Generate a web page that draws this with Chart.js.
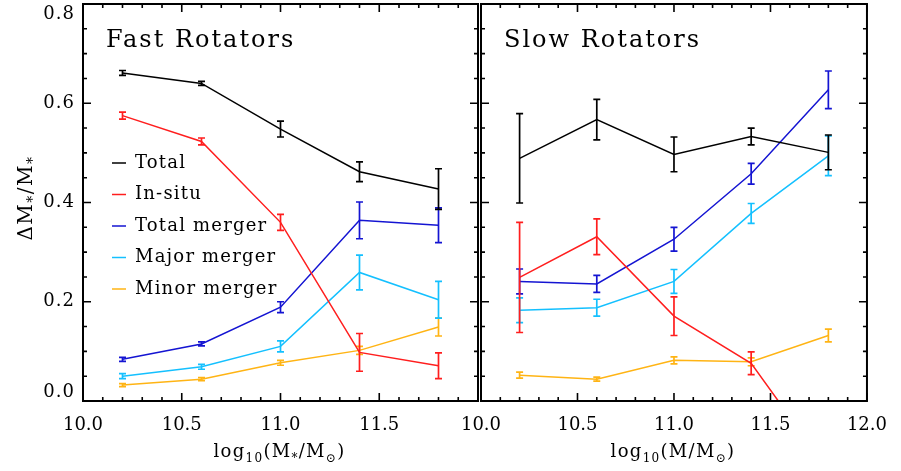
<!DOCTYPE html>
<html>
<head>
<meta charset="utf-8">
<script src="https://cdn.jsdelivr.net/npm/chart.js@4.4.0/dist/chart.umd.min.js"></script>
<style>
  body { margin: 0; background: #fff; }
  #wrap { position: relative; width: 901px; height: 471px; overflow: hidden; }
  canvas { position: absolute; top: 0; }
</style>
</head>
<body>
<div id="wrap">
  <canvas id="fast" width="492" height="471" style="left:0"></canvas>
  <canvas id="slow" width="461" height="471" style="left:440px"></canvas>
</div>
<script>
// stellar mass bins (log10)
const massBins = [10.2, 10.6, 11.0, 11.4, 11.8];
const seriesNames = ['Total', 'In-situ', 'Total merger', 'Major merger', 'Minor merger'];
const seriesColors = ['#000000', '#ff1e1e', '#1414d2', '#14c0ff', '#ffb414'];

// fast rotators
const fastTotal = [0.661, 0.640, 0.548, 0.462, 0.427];
const fastTotalErr = [0.005, 0.004, 0.016, 0.020, 0.041];
const fastInsitu = [0.575, 0.523, 0.360, 0.098, 0.071];
const fastInsituErr = [0.007, 0.007, 0.016, 0.038, 0.026];
const fastMerger = [0.084, 0.115, 0.189, 0.364, 0.354];
const fastMergerErr = [0.004, 0.004, 0.011, 0.037, 0.035];
const fastMajor = [0.050, 0.069, 0.110, 0.259, 0.204];
const fastMajorErr = [0.005, 0.005, 0.011, 0.035, 0.037];
const fastMinor = [0.032, 0.044, 0.077, 0.102, 0.149];
const fastMinorErr = [0.003, 0.003, 0.005, 0.008, 0.018];

// slow rotators
const slowTotal = [0.489, 0.567, 0.497, 0.533, 0.501];
const slowTotalErr = [0.090, 0.041, 0.035, 0.017, 0.035];
const slowInsitu = [0.249, 0.331, 0.171, 0.076, -0.140];
const slowInsituErr = [0.111, 0.036, 0.039, 0.023, 0.030];
const slowMerger = [0.241, 0.236, 0.326, 0.458, 0.627];
const slowMergerErr = [0.025, 0.017, 0.024, 0.021, 0.038];
const slowMajor = [0.183, 0.188, 0.241, 0.378, 0.494];
const slowMajorErr = [0.025, 0.017, 0.024, 0.020, 0.040];
const slowMinor = [0.052, 0.044, 0.082, 0.079, 0.132];
const slowMinorErr = [0.006, 0.004, 0.007, 0.008, 0.013];

const yTicks = [0.0, 0.2, 0.4, 0.6, 0.8];
const FONT = '"DejaVu Serif", "Liberation Serif", serif';

function makeDatasets(values, errors) {
  return values.map((vals, i) => ({
    label: seriesNames[i],
    data: massBins.map((x, j) => ({ x: x, y: vals[j] })),
    errors: errors[i],
    borderColor: seriesColors[i],
    borderWidth: 1.5,
    pointRadius: 0,
    tension: 0
  }));
}

// vertical error bars with caps, drawn right after each line
const errorBars = {
  id: 'errorBars',
  afterDatasetDraw(chart, args) {
    const ds = chart.data.datasets[args.index];
    if (!ds.errors) return;
    const y = chart.scales.y, a = chart.chartArea, ctx = chart.ctx;
    ctx.save();
    ctx.beginPath();
    ctx.rect(a.left, a.top, a.right - a.left, a.bottom - a.top);
    ctx.clip();
    ctx.strokeStyle = ds.borderColor;
    ctx.lineWidth = 1.7;
    args.meta.data.forEach((pt, i) => {
      const v = ds.data[i].y, e = ds.errors[i];
      const top = y.getPixelForValue(v + e), bot = y.getPixelForValue(v - e);
      ctx.beginPath();
      ctx.moveTo(pt.x, top); ctx.lineTo(pt.x, bot);
      ctx.moveTo(pt.x - 3.5, top); ctx.lineTo(pt.x + 3.5, top);
      ctx.moveTo(pt.x - 3.5, bot); ctx.lineTo(pt.x + 3.5, bot);
      ctx.stroke();
    });
    ctx.restore();
  }
};

function drawRich(ctx, pieces, cx, base, size, spacing) {
  const sub = Math.round(size * 0.68);
  ctx.letterSpacing = spacing + 'px';
  let w = 0;
  pieces.forEach(p => {
    ctx.font = (p[1] ? sub : size) + 'px ' + FONT;
    w += ctx.measureText(p[0]).width;
  });
  let x = cx - w / 2;
  ctx.textAlign = 'left';
  ctx.textBaseline = 'alphabetic';
  pieces.forEach(p => {
    ctx.font = (p[1] ? sub : size) + 'px ' + FONT;
    ctx.fillText(p[0], x, base + (p[1] ? size * 0.25 : 0));
    x += ctx.measureText(p[0]).width;
  });
  ctx.letterSpacing = '0px';
}

// frame, inward ticks, y labels, titles, legend
const frame = {
  id: 'frame',
  afterDraw(chart, args, opts) {
    const ctx = chart.ctx, a = chart.chartArea;
    const xs = chart.scales.x, ys = chart.scales.y;
    ctx.save();
    ctx.strokeStyle = '#000';
    ctx.fillStyle = '#000';
    ctx.lineWidth = 2;
    ctx.strokeRect(a.left, a.top, a.right - a.left, a.bottom - a.top);

    ctx.lineWidth = 1.6;
    ctx.beginPath();
    for (let k = 0; k <= 20; k++) {
      const px = xs.getPixelForValue(10 + k * 0.1);
      const len = k % 5 === 0 ? 8 : 4;
      ctx.moveTo(px, a.bottom); ctx.lineTo(px, a.bottom - len);
      ctx.moveTo(px, a.top); ctx.lineTo(px, a.top + len);
    }
    for (let k = 0; k <= 16; k++) {
      const py = ys.getPixelForValue(k * 0.05);
      const len = k % 4 === 0 ? 8 : 4;
      ctx.moveTo(a.left, py); ctx.lineTo(a.left + len, py);
      ctx.moveTo(a.right, py); ctx.lineTo(a.right - len, py);
    }
    ctx.stroke();

    if (opts.yLabels) {
      ctx.font = '18px ' + FONT;
      ctx.letterSpacing = '1px';
      ctx.textAlign = 'right';
      ctx.textBaseline = 'middle';
      yTicks.forEach(v => {
        let py = ys.getPixelForValue(v);
        py = Math.min(Math.max(py, a.top + 10), a.bottom - 9);
        ctx.fillText(v.toFixed(1), a.left - 8, py);
      });
      ctx.letterSpacing = '0px';
      ctx.save();
      ctx.translate(a.left - 59, 198);
      ctx.rotate(-Math.PI / 2);
      drawRich(ctx, [['\u0394M', 0], ['*', 1], ['/M', 0], ['*', 1]], 0, 8, 20, 1.5);
      ctx.restore();
    }

    ctx.font = '24px ' + FONT;
    ctx.letterSpacing = '2px';
    ctx.textAlign = 'left';
    ctx.textBaseline = 'alphabetic';
    ctx.fillText(opts.title, a.left + 23, 47);
    ctx.letterSpacing = '0px';

    drawRich(ctx, opts.xTitle, (a.left + a.right) / 2 - 1, 457, 18, 1.3);

    if (opts.legend) {
      ctx.font = '18px ' + FONT;
      ctx.letterSpacing = '1.2px';
      ctx.textBaseline = 'middle';
      chart.data.datasets.forEach((ds, i) => {
        const ly = 163 + i * 31.5;
        ctx.strokeStyle = ds.borderColor;
        ctx.lineWidth = 1.5;
        ctx.beginPath();
        ctx.moveTo(a.left + 29, ly); ctx.lineTo(a.left + 43, ly);
        ctx.stroke();
        ctx.fillStyle = '#000';
        ctx.fillText(ds.label, a.left + 52, ly);
      });
      ctx.letterSpacing = '0px';
    }
    ctx.restore();
  }
};

function makeChart(id, datasets, padding, frameOpts, hideLast) {
  return new Chart(document.getElementById(id), {
    type: 'line',
    data: { datasets: datasets },
    plugins: [errorBars, frame],
    options: {
      responsive: false,
      animation: false,
      layout: { padding: padding },
      plugins: {
        legend: { display: false },
        tooltip: { enabled: false },
        frame: frameOpts
      },
      scales: {
        x: {
          type: 'linear',
          min: 10, max: 12,
          afterFit: s => { s.height = 70; },
          grid: { display: false, drawTicks: false },
          border: { display: false },
          ticks: {
            stepSize: 0.5,
            autoSkip: false,
            maxRotation: 0,
            padding: 14,
            color: '#000',
            font: { family: FONT, size: 18 },
            callback: v => (hideLast && v === 12) ? '' : v.toFixed(1)
          }
        },
        y: {
          display: false,
          min: 0, max: 0.8
        }
      }
    }
  });
}

makeChart('fast',
  makeDatasets([fastTotal, fastInsitu, fastMerger, fastMajor, fastMinor],
               [fastTotalErr, fastInsituErr, fastMergerErr, fastMajorErr, fastMinorErr]),
  { left: 83, right: 11, top: 4, bottom: 0 },
  { title: 'Fast Rotators', yLabels: true, legend: true,
    xTitle: [['log', 0], ['10', 1], ['(M', 0], ['*', 1], ['/M', 0], ['\u2299', 1], [')', 0]] },
  true);

makeChart('slow',
  makeDatasets([slowTotal, slowInsitu, slowMerger, slowMajor, slowMinor],
               [slowTotalErr, slowInsituErr, slowMergerErr, slowMajorErr, slowMinorErr]),
  { left: 41, right: 23, top: 4, bottom: 0 },
  { title: 'Slow Rotators', yLabels: false, legend: false,
    xTitle: [['log', 0], ['10', 1], ['(M/M', 0], ['\u2299', 1], [')', 0]] },
  false);
</script>
</body>
</html>
